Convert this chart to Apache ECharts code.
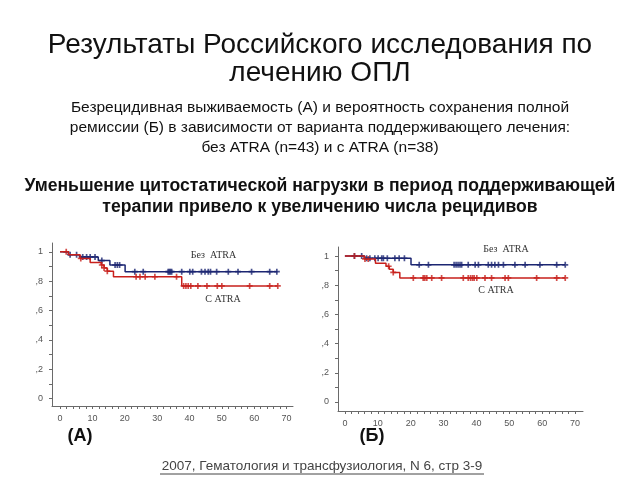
<!DOCTYPE html>
<html>
<head>
<meta charset="utf-8">
<script src="https://cdn.jsdelivr.net/npm/echarts@6/dist/echarts.min.js"></script>
<style>html,body{margin:0;padding:0;background:#fff}#c{width:640px;height:480px}</style>
</head>
<body>
<div id="c"></div>
<script>
// ---- Data ----
// Chart A: relapse-free survival
var aNoAtraT = [0, 2.6, 6.0, 11.8, 15.4, 20.1, 67.2];
var aNoAtraS = [1, 0.98, 0.965, 0.94, 0.91, 0.865, 0.865];
var aAtraT   = [0, 2.6, 6.2, 9.3, 12.7, 13.6, 14.6, 16.5, 37.6, 67.3];
var aAtraS   = [1, 0.98, 0.955, 0.927, 0.91, 0.89, 0.868, 0.83, 0.768, 0.768];
var aNoAtraCens = [3.1, 5.1, 7.0, 8.2, 9.3, 10.8, 12.9, 17.0, 17.7, 18.4, 23.1, 25.7, 33.4, 33.8, 34.1, 34.5, 37.6, 40.1, 41.0, 43.7, 44.8, 45.8, 46.5, 48.4, 52.0, 55.0, 59.2, 64.8, 67.0];
var aAtraCens   = [1.9, 6.4, 12.9, 13.6, 14.6, 23.5, 24.7, 26.3, 29.3, 36.0, 38.2, 38.9, 39.6, 40.4, 42.6, 45.4, 48.6, 50.0, 58.6, 64.8, 67.3];
// Chart B: probability of keeping complete remission
var bNoAtraT = [0, 5.9, 20.1, 67.0];
var bNoAtraS = [1, 0.985, 0.94, 0.94];
var bAtraT   = [0, 5.9, 9.3, 12.5, 13.5, 14.7, 16.7, 67.0];
var bAtraS   = [1, 0.98, 0.95, 0.93, 0.91, 0.888, 0.85, 0.85];
var bNoAtraCens = [2.9, 5.1, 6.6, 7.6, 9.1, 10.1, 11.2, 11.7, 12.9, 15.2, 16.5, 18.1, 22.6, 25.4, 33.2, 33.8, 34.4, 35.0, 35.5, 37.5, 39.6, 40.6, 43.6, 44.6, 45.6, 46.7, 48.2, 51.7, 54.8, 59.3, 64.4, 67.0];
var bAtraCens   = [2.9, 6.1, 7.1, 13.3, 14.7, 20.8, 23.8, 24.3, 24.9, 26.4, 29.4, 36.0, 37.5, 38.2, 38.8, 39.3, 40.1, 42.6, 44.6, 48.7, 49.7, 58.3, 64.4, 67.0];

var xLabels = [0, 10, 20, 30, 40, 50, 60, 70];
var xTicks = [0,2,4,6,8,10,12,14,16,18,20,22,24,26,28,30,32,34,36,38,40,42,44,46,48,50,52,54,56,58,60,62,64,66,68,70];
var yLabels = [0, 0.2, 0.4, 0.6, 0.8, 1];
var yTicks = [0, 0.1, 0.2, 0.3, 0.4, 0.5, 0.6, 0.7, 0.8, 0.9, 1];

var titleText = 'Результаты Российского исследования по\nлечению ОПЛ';
var subText = 'Безрецидивная выживаемость (А) и вероятность сохранения полной\nремиссии (Б) в зависимости от варианта поддерживающего лечения:\nбез ATRA (n=43) и с ATRA (n=38)';
var boldText = 'Уменьшение цитостатической нагрузки в период поддерживающей\nтерапии привело к увеличению числа рецидивов';
var footText = '2007, Гематология и трансфузиология, N 6, стр 3-9';

var BLUE = '#1c2672';
var RED = '#c8201c';

function curve(t, s) { return t.map(function (v, i) { return [v, s[i]]; }); }
function survAt(t, s, x) {
  var v = s[0];
  for (var i = 0; i < t.length; i++) { if (t[i] <= x) v = s[i]; }
  return v;
}
function cens(t, s, c) { return c.map(function (x) { return [x, survAt(t, s, x)]; }); }

function yFmt(v) {
  if (v === 0) return '0';
  if (v === 1) return '1';
  return String(v).replace('0.', ',');
}

var axisCol = '#6a6a6a';
function mkX(gi, min, max) {
  return {
    type: 'value', gridIndex: gi, min: min, max: max,
    axisLine: { show: true, onZero: false, lineStyle: { color: axisCol, width: 1 } },
    axisTick: { show: true, length: 3, customValues: xTicks, lineStyle: { color: axisCol } },
    axisLabel: { customValues: xLabels, color: '#555', fontSize: 9, margin: 8, fontFamily: 'Liberation Sans' },
    splitLine: { show: false }
  };
}
function mkY(gi, min, max) {
  return {
    type: 'value', gridIndex: gi, min: min, max: max,
    axisLine: { show: true, onZero: false, lineStyle: { color: axisCol, width: 1 } },
    axisTick: { show: true, length: 3, customValues: yTicks, lineStyle: { color: axisCol } },
    axisLabel: { customValues: yLabels, color: '#555', fontSize: 9, margin: 9, formatter: yFmt, fontFamily: 'Liberation Sans' },
    splitLine: { show: false }
  };
}
var plus = 'path://M-0.28,-1H0.28V-0.28H1V0.28H0.28V1H-0.28V0.28H-1V-0.28H-0.28Z';
function lineS(gi, data, color) {
  return { type: 'line', xAxisIndex: gi, yAxisIndex: gi, data: data, step: 'end', showSymbol: false,
    symbol: 'none', lineStyle: { color: color, width: 1.5 }, silent: true, animation: false };
}
function censS(gi, data, color) {
  return { type: 'scatter', xAxisIndex: gi, yAxisIndex: gi, data: data, symbol: plus, symbolSize: 6,
    itemStyle: { color: color }, silent: true, animation: false };
}
function txt(x, y, text, font, fill, lh, va) {
  return { type: 'text', x: x, y: y, silent: true,
    style: { text: text, fill: fill, font: font, lineHeight: lh, align: 'center', verticalAlign: va || 'middle' } };
}

var chart = echarts.init(document.getElementById('c'), null, { renderer: 'canvas' });
chart.setOption({
  backgroundColor: '#ffffff',
  animation: false,
  grid: [
    { left: 52, top: 243, width: 241, height: 163 },
    { left: 338, top: 247, width: 245, height: 164 }
  ],
  xAxis: [mkX(0, -2.5, 72), mkX(1, -2.1, 72.4)],
  yAxis: [mkY(0, -0.05, 1.06), mkY(1, -0.062, 1.062)],
  series: [
    lineS(0, curve(aNoAtraT, aNoAtraS), BLUE),
    lineS(0, curve(aAtraT, aAtraS), RED),
    censS(0, cens(aNoAtraT, aNoAtraS, aNoAtraCens), BLUE),
    censS(0, cens(aAtraT, aAtraS, aAtraCens), RED),
    lineS(1, curve(bNoAtraT, bNoAtraS), BLUE),
    lineS(1, curve(bAtraT, bAtraS), RED),
    censS(1, cens(bNoAtraT, bNoAtraS, bNoAtraCens), BLUE),
    censS(1, cens(bAtraT, bAtraS, bAtraCens), RED)
  ],
  graphic: [
    txt(320, 31, titleText, '28px "Liberation Sans"', '#111', 28, 'top'),
    txt(320, 98, subText, '15.5px "Liberation Sans"', '#111', 20, 'top'),
    txt(320, 176, boldText, 'bold 17.6px "Liberation Sans"', '#111', 20.5, 'top'),
    txt(213.5, 255, 'Без  ATRA', '10px "Liberation Serif"', '#333', 12),
    txt(223, 299, 'С ATRA', '10px "Liberation Serif"', '#333', 12),
    txt(506, 249, 'Без  ATRA', '10px "Liberation Serif"', '#333', 12),
    txt(496, 290, 'С ATRA', '10px "Liberation Serif"', '#333', 12),
    txt(80, 436, '(А)', 'bold 18px "Liberation Sans"', '#111', 20),
    txt(372, 436, '(Б)', 'bold 18px "Liberation Sans"', '#111', 20),
    txt(322, 466, footText, '13.5px "Liberation Sans"', '#444', 15),
    { type: 'line', silent: true, shape: { x1: 160, y1: 474, x2: 484, y2: 474 }, style: { stroke: '#444', lineWidth: 1 } }
  ]
});
</script>
</body>
</html>
